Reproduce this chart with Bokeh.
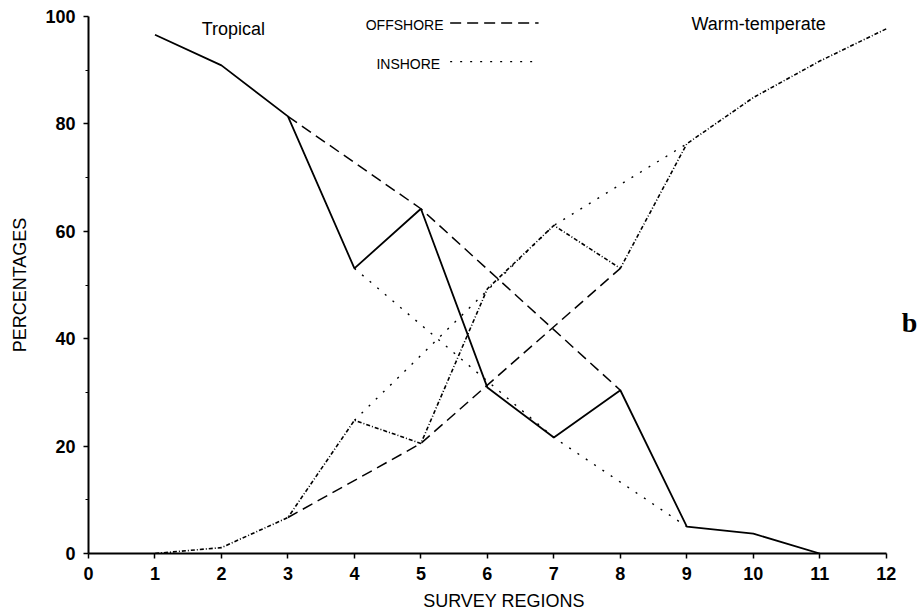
from bokeh.plotting import figure
from bokeh.models import Range1d, FixedTicker, Label
from bokeh.embed import file_html
from bokeh.resources import INLINE

# ---- data ----
tropical_regions = [1, 2, 3, 4, 5, 6, 7, 8, 9, 10, 11]
tropical_pct = [96.6, 90.9, 81.4, 53.1, 64.2, 30.9, 21.6, 30.4, 5.0, 3.7, 0.0]

warm_regions = [1, 2, 3, 4, 5, 6, 7, 8, 9, 10, 11, 12]
warm_pct = [0.0, 1.1, 6.7, 24.8, 20.5, 49.3, 61.1, 53.1, 76.3, 84.9, 91.7, 97.7]

offshore_regions = [3, 5, 8]
offshore_tropical = [81.4, 64.2, 30.4]
offshore_warm = [6.7, 20.5, 53.1]

inshore_regions = [4, 7, 9]
inshore_tropical = [53.1, 21.6, 5.0]
inshore_warm = [24.8, 61.1, 76.3]

x_ticks = list(range(0, 13))
y_ticks = [0, 20, 40, 60, 80, 100]
y_minor = [10, 30, 50, 70, 90]

FONT = "Liberation Sans"
DASH = "11 6"
DOT = "2 8"
DASHDOT = "4 2 1 2"

p = figure(width=919, height=613, output_backend="svg", toolbar_location=None,
           x_range=Range1d(0, 12.5), y_range=Range1d(0, 100),
           min_border_left=88, min_border_right=0, min_border_top=16,
           min_border_bottom=60, background_fill_color="white",
           border_fill_color="white")
p.outline_line_color = None
p.grid.visible = False

# main series
p.line(tropical_regions, tropical_pct, line_color="black", line_width=1.8)
p.line(warm_regions, warm_pct, line_color="black", line_width=1.6, line_dash=DASHDOT)
# offshore / inshore series
p.line(offshore_regions, offshore_tropical, line_color="black", line_width=1.5, line_dash=DASH)
p.line(offshore_regions, offshore_warm, line_color="black", line_width=1.5, line_dash=DASH)
p.line(inshore_regions, inshore_tropical, line_color="black", line_width=1.4, line_dash=DOT)
p.line(inshore_regions, inshore_warm, line_color="black", line_width=1.4, line_dash=DOT)

# legend keys (drawn like the original: label then line sample)
key_x = [5.44, 6.77]
p.line(key_x, [98.8, 98.8], line_color="black", line_width=1.5, line_dash=DASH)
p.line(key_x, [91.6, 91.6], line_color="black", line_width=1.4, line_dash=DOT)

p.add_layout(Label(x=5.34, y=98.5, text="OFFSHORE", text_align="right",
                   text_baseline="middle", text_font=FONT, text_font_size="14px",
                   text_color="black"))
p.add_layout(Label(x=5.29, y=91.1, text="INSHORE", text_align="right",
                   text_baseline="middle", text_font=FONT, text_font_size="14px",
                   text_color="black"))
p.add_layout(Label(x=2.18, y=97.6, text="Tropical", text_align="center",
                   text_baseline="middle", text_font=FONT, text_font_size="18px",
                   text_color="black"))
p.add_layout(Label(x=10.08, y=98.6, text="Warm-temperate", text_align="center",
                   text_baseline="middle", text_font=FONT, text_font_size="18px",
                   text_color="black"))
p.add_layout(Label(x=12.35, y=43.0, text="b", text_align="center",
                   text_baseline="middle", text_font="Liberation Serif",
                   text_font_size="28px", text_font_style="bold",
                   text_color="black"))

# axes
p.xaxis.ticker = FixedTicker(ticks=x_ticks)
p.xaxis.bounds = (0, 12)
p.yaxis.ticker = FixedTicker(ticks=y_ticks, minor_ticks=y_minor)
p.yaxis.bounds = (0, 100)
for ax in (p.xaxis, p.yaxis):
    ax.axis_line_color = "black"
    ax.axis_line_width = 2
    ax.major_tick_line_color = "black"
    ax.major_tick_line_width = 1.5
    ax.major_tick_out = 5
    ax.major_tick_in = 0
    ax.major_label_text_font = FONT
    ax.major_label_text_font_style = "bold"
    ax.major_label_text_font_size = "18px"
    ax.major_label_text_color = "black"
    ax.axis_label_text_font = FONT
    ax.axis_label_text_font_style = "normal"
    ax.axis_label_text_font_size = "18px"
    ax.axis_label_text_color = "black"
p.yaxis.minor_tick_line_color = "black"
p.yaxis.minor_tick_out = 3
p.yaxis.minor_tick_in = 0
p.xaxis.minor_tick_line_color = None
p.xaxis.major_label_standoff = 8
p.yaxis.major_label_standoff = 8
p.xaxis.axis_label = "SURVEY REGIONS"
p.yaxis.axis_label = "PERCENTAGES"
p.xaxis.axis_label_standoff = 8
p.yaxis.axis_label_standoff = 12

open("out.html", "w").write(file_html(p, INLINE))
